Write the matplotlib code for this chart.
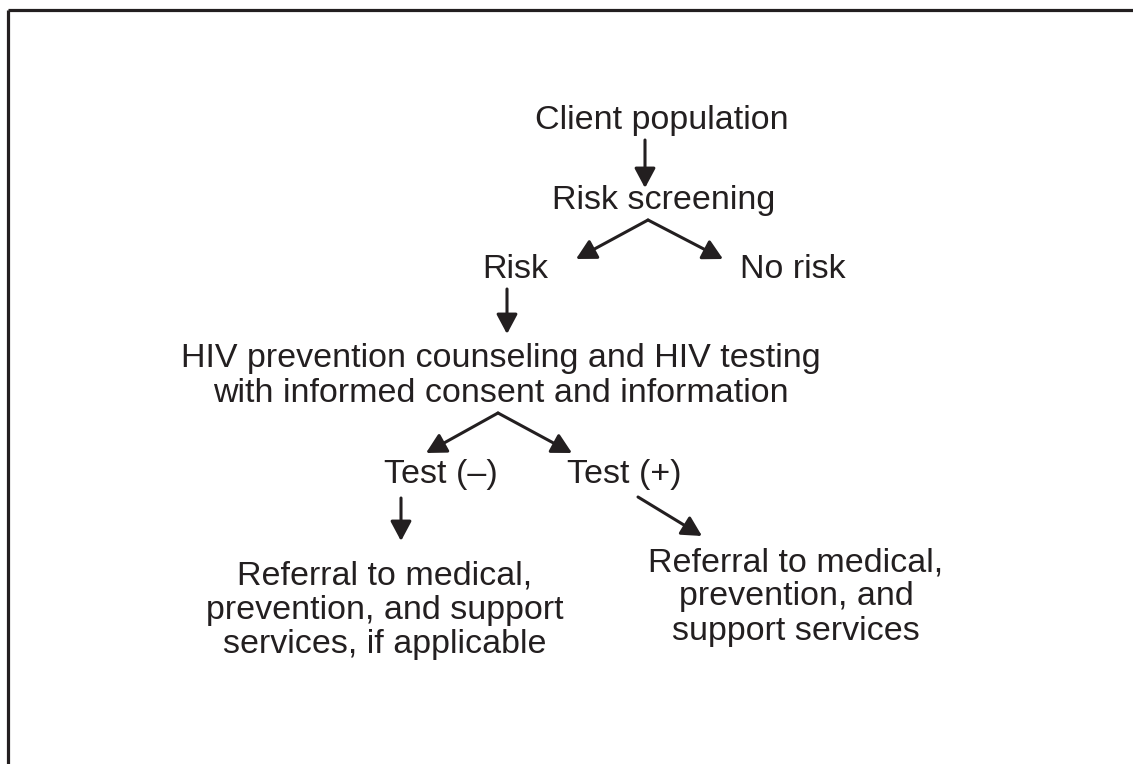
import matplotlib.pyplot as plt

# flowchart content
labels = [
    "Client population",
    "Risk screening",
    "Risk",
    "No risk",
    "HIV prevention counseling and HIV testing\nwith informed consent and information",
    "Test (\u2013)",
    "Test (+)",
    "Referral to medical,\nprevention, and support\nservices, if applicable",
    "Referral to medical,\nprevention, and\nsupport services",
]
edges = [(0, 1), (1, 2), (1, 3), (2, 4), (4, 5), (4, 6), (5, 7), (6, 8)]

# layout in pixel units (x, y measured from top-left)
node_pos = [(662, 120), (664, 201), (515, 270), (793, 270), (501, 376),
            (441, 474), (624, 474), (385, 610), (796, 597)]
arrow_pos = {
    (0, 1): ((645, 140), (645, 188)),
    (1, 2): ((648, 220), (576, 259)),
    (1, 3): ((648, 220), (723, 259)),
    (2, 4): ((507, 289), (507, 334)),
    (4, 5): ((498, 413), (426, 453)),
    (4, 6): ((498, 413), (572, 453)),
    (5, 7): ((401, 498), (401, 541)),
    (6, 8): ((638, 497), (702, 536)),
}

ink = "#231f20"
W, H = 1133, 764

fig = plt.figure(figsize=(W / 100, H / 100), dpi=100)
ax = fig.add_axes([0, 0, 1, 1])
ax.set_xlim(0, W)
ax.set_ylim(H, 0)
ax.axis("off")

# frame: top and left edges only
ax.plot([8, W], [10, 10], color=ink, lw=2.3, solid_capstyle="butt")
ax.plot([8, 8], [10, H], color=ink, lw=2.3, solid_capstyle="butt")

for lab, (x, y) in zip(labels, node_pos):
    ax.text(x, y, lab, ha="center", va="center", fontsize=24.5,
            family="Liberation Sans", color=ink, linespacing=1.13)

for e in edges:
    (x0, y0), (x1, y1) = arrow_pos[e]
    ax.annotate("", xy=(x1, y1), xytext=(x0, y0),
                arrowprops=dict(arrowstyle="-|>,head_length=0.6,head_width=0.32",
                                mutation_scale=20, color=ink, lw=2.2,
                                shrinkA=0, shrinkB=0))

fig.savefig("out.png", dpi=100)
